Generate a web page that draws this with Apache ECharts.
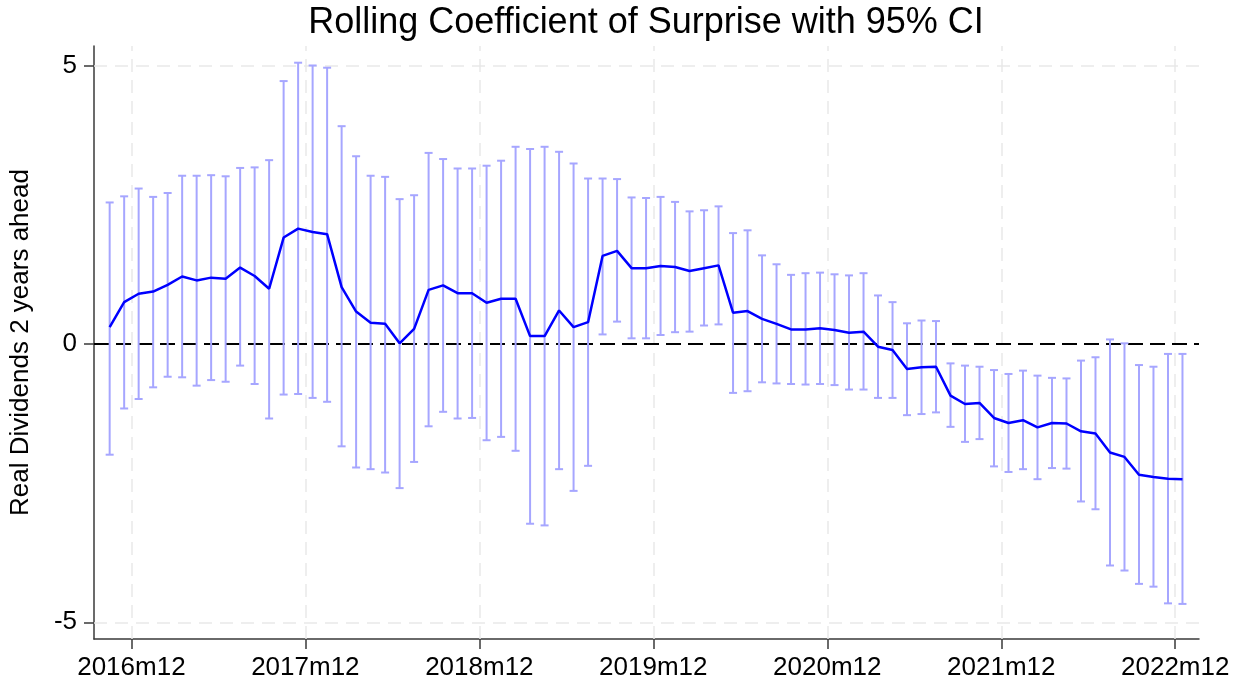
<!DOCTYPE html>
<html>
<head>
<meta charset="utf-8">
<title>Rolling Coefficient of Surprise with 95% CI</title>
<script src="https://cdn.jsdelivr.net/npm/echarts@6/dist/echarts.min.js"></script>
<style>
	html, body { margin: 0; padding: 0; background: #fff; }
	#chart { width: 1239px; height: 687px; }
</style>
</head>
<body>
<div id="chart"></div>
<script>
// months counted from 2016m1 = 0; first estimate is 2016m10, one per month
var firstMonth = 9;

// rolling point estimate
var coef = [
	0.30, 0.75, 0.90, 0.94, 1.06, 1.21, 1.14, 1.19, 1.17, 1.37,
	1.22, 0.99, 1.91, 2.07, 2.01, 1.97, 1.02, 0.58, 0.38, 0.36,
	0.01, 0.27, 0.97, 1.05, 0.91, 0.91, 0.74, 0.81, 0.81, 0.14,
	0.14, 0.60, 0.30, 0.39, 1.58, 1.67, 1.36, 1.36, 1.40, 1.38,
	1.31, 1.36, 1.41, 0.56, 0.59, 0.45, 0.36, 0.26, 0.26, 0.28,
	0.25, 0.20, 0.22, -0.05, -0.11, -0.45, -0.42, -0.41, -0.93, -1.08,
	-1.06, -1.33, -1.42, -1.37, -1.50, -1.42, -1.43, -1.57, -1.61, -1.95,
	-2.03, -2.35, -2.39, -2.42, -2.43
];

// upper bound of the 95% CI
var ciHigh = [
	2.54, 2.65, 2.79, 2.64, 2.71, 3.02, 3.02, 3.03, 3.01, 3.16,
	3.17, 3.30, 4.72, 5.05, 5.00, 4.96, 3.91, 3.37, 3.02, 3.00,
	2.60, 2.67, 3.43, 3.32, 3.15, 3.15, 3.20, 3.29, 3.54, 3.50,
	3.54, 3.45, 3.24, 2.97, 2.97, 2.96, 2.63, 2.62, 2.64, 2.55,
	2.38, 2.40, 2.47, 1.99, 2.04, 1.59, 1.43, 1.24, 1.27, 1.28,
	1.25, 1.23, 1.27, 0.87, 0.75, 0.37, 0.42, 0.41, -0.35, -0.39,
	-0.41, -0.47, -0.54, -0.48, -0.57, -0.61, -0.62, -0.30, -0.24, 0.08,
	0.01, -0.38, -0.41, -0.18, -0.18
];

// lower bound of the 95% CI
var ciLow = [
	-1.99, -1.16, -0.99, -0.78, -0.59, -0.60, -0.75, -0.65, -0.68, -0.39,
	-0.72, -1.34, -0.91, -0.90, -0.97, -1.04, -1.84, -2.22, -2.25, -2.31,
	-2.59, -2.12, -1.48, -1.22, -1.34, -1.33, -1.73, -1.67, -1.92, -3.23,
	-3.26, -2.25, -2.64, -2.19, 0.17, 0.40, 0.10, 0.10, 0.16, 0.21,
	0.22, 0.33, 0.35, -0.88, -0.85, -0.69, -0.71, -0.72, -0.73, -0.72,
	-0.74, -0.82, -0.82, -0.97, -0.97, -1.28, -1.26, -1.23, -1.49, -1.76,
	-1.71, -2.20, -2.30, -2.25, -2.43, -2.23, -2.24, -2.83, -2.97, -3.98,
	-4.07, -4.31, -4.36, -4.66, -4.67
];

// x ticks (December of each year)
var tickYears = [2016, 2017, 2018, 2019, 2020, 2021, 2022];
var yTicks = [-5, 0, 5];

var FONT = '"Liberation Sans", Arial, sans-serif';
var AXIS_COLOR = '#3a3a3a';
var GRID_COLOR = '#e9e9e9';
var BAR_COLOR = '#a6a6ff';

var chart = echarts.init(document.getElementById('chart'), null, { renderer: 'canvas' });

// x position: middle of each month
var xs = coef.map(function(v, i) { return firstMonth + i + 0.5; });
var lineData = coef.map(function(v, i) { return [xs[i], v]; });
var barData = coef.map(function(v, i) { return [xs[i], ciHigh[i], ciLow[i]]; });
var xTicks = tickYears.map(function(y) { return (y - 2016) * 12 + 11; });

var gridLines = xTicks.map(function(v) { return { xAxis: v }; })
	.concat([{ yAxis: 5 }, { yAxis: -5 }]);

var option = {
	animation: false,
	graphic: [{
		type: 'text',
		x: 646,
		y: 23,
		style: {
			text: 'Rolling Coefficient of Surprise with 95% CI',
			font: '36px ' + FONT,
			fill: '#000',
			align: 'center',
			verticalAlign: 'middle'
		}
	}],
	grid: { left: 93, right: 40, top: 46, bottom: 48 },
	xAxis: {
		type: 'value',
		min: 8.42,
		max: 84.64,
		axisLine: { show: true, onZero: false, lineStyle: { color: AXIS_COLOR, width: 1.5 } },
		axisTick: { show: true, customValues: xTicks, length: 10, lineStyle: { color: AXIS_COLOR, width: 1.5 } },
		axisLabel: {
			customValues: xTicks,
			margin: 16,
			fontSize: 26,
			fontFamily: FONT,
			color: '#000',
			formatter: function(v) {
				return (2016 + Math.round((v - 11) / 12)) + 'm12';
			}
		},
		splitLine: { show: false }
	},
	yAxis: {
		type: 'value',
		min: -5.3,
		max: 5.35,
		name: 'Real Dividends 2 years ahead',
		nameLocation: 'middle',
		nameRotate: 90,
		nameGap: 60,
		nameTextStyle: { fontSize: 26, fontFamily: FONT, color: '#000' },
		axisLine: { show: true, onZero: false, lineStyle: { color: AXIS_COLOR, width: 1.5 } },
		axisTick: { show: true, customValues: yTicks, length: 10, lineStyle: { color: AXIS_COLOR, width: 1.5 } },
		axisLabel: {
			customValues: yTicks,
			margin: 17,
			fontSize: 26,
			fontFamily: FONT,
			color: '#000'
		},
		splitLine: { show: false }
	},
	series: [{
		// grid lines
		type: 'line',
		data: [],
		silent: true,
		z: 1,
		markLine: {
			z: 1,
			silent: true,
			symbol: 'none',
			label: { show: false },
			lineStyle: { color: GRID_COLOR, width: 1.5, type: [13, 8] },
			data: gridLines
		}
	}, {
		// CI bars
		type: 'custom',
		z: 2,
		data: barData,
		encode: { x: 0, y: [1, 2] },
		renderItem: function(params, api) {
			var top = api.coord([api.value(0), api.value(1)]);
			var bot = api.coord([api.value(0), api.value(2)]);
			var hw = 4;
			var st = { stroke: BAR_COLOR, lineWidth: 2 };
			return {
				type: 'group',
				children: [
					{ type: 'line', shape: { x1: top[0], y1: top[1], x2: bot[0], y2: bot[1] }, style: st },
					{ type: 'line', shape: { x1: top[0] - hw, y1: top[1], x2: top[0] + hw, y2: top[1] }, style: st },
					{ type: 'line', shape: { x1: bot[0] - hw, y1: bot[1], x2: bot[0] + hw, y2: bot[1] }, style: st }
				]
			};
		},
		markLine: {
			z: 2,
			silent: true,
			symbol: 'none',
			label: { show: false },
			lineStyle: { color: '#000', width: 2, type: [15, 7] },
			data: [{ yAxis: 0 }]
		}
	}, {
		// point estimate
		type: 'line',
		z: 3,
		data: lineData,
		showSymbol: false,
		symbol: 'none',
		lineStyle: { color: '#0000ff', width: 2.5 }
	}]
};

chart.setOption(option);
</script>
</body>
</html>
